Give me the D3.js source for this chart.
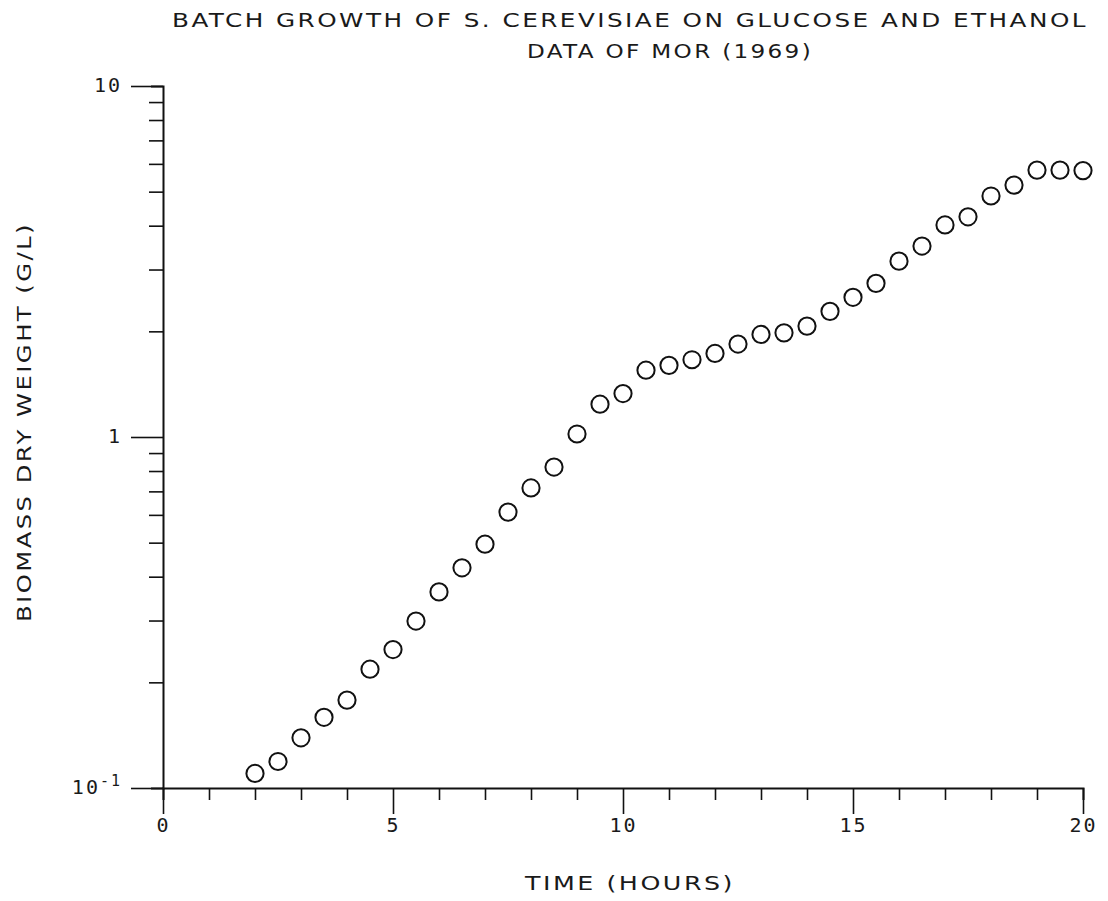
<!DOCTYPE html>
<html>
<head>
<meta charset="utf-8">
<script src="https://cdn.jsdelivr.net/npm/d3@7/dist/d3.min.js"></script>
<style>
  body { margin: 0; background: #fff; }
  text { font-family: "DejaVu Sans", sans-serif; fill: #1a1a1a; }
  .num { font-family: "DejaVu Sans Mono", monospace; }
</style>
</head>
<body>
<div id="chart"></div>
<script>
const WIDTH = 1108;
const HEIGHT = 901;

// time (hours) and biomass dry weight (g/L)
var TIME = [2, 2.5, 3, 3.5, 4, 4.5, 5, 5.5, 6, 6.5, 7, 7.5, 8, 8.5, 9, 9.5, 10,
  10.5, 11, 11.5, 12, 12.5, 13, 13.5, 14, 14.5, 15, 15.5, 16, 16.5, 17, 17.5,
  18, 18.5, 19, 19.5, 20];
var BIOMASS = [0.110, 0.119, 0.139, 0.159, 0.178, 0.218, 0.248, 0.299, 0.362,
  0.424, 0.495, 0.611, 0.716, 0.821, 1.02, 1.24, 1.33, 1.55, 1.60, 1.66, 1.73,
  1.84, 1.96, 1.98, 2.07, 2.28, 2.50, 2.74, 3.17, 3.50, 4.02, 4.24, 4.86, 5.22,
  5.76, 5.76, 5.74];

var X_TICKS = d3.range(0, 21);
var X_LABELS = [0, 5, 10, 15, 20];
var Y_TICKS = [0.1, 0.2, 0.3, 0.4, 0.5, 0.6, 0.7, 0.8, 0.9,
  1, 2, 3, 4, 5, 6, 7, 8, 9, 10];
var Y_LABELS = [0.1, 1, 10];

var TITLE = ["BATCH GROWTH OF S. CEREVISIAE ON GLUCOSE AND ETHANOL",
  "DATA OF MOR (1969)"];
var X_TITLE = "TIME (HOURS)";
var Y_TITLE = "BIOMASS DRY WEIGHT (G/L)";

var xScale = d3.scaleLinear().domain([0, 20]).range([163, 1083]);
var yScale = d3.scaleLog().domain([0.1, 10]).range([788, 86]);

var svg = d3.select("#chart").append("svg")
  .attr("width", WIDTH)
  .attr("height", HEIGHT);

//X axis, ticks pointing down
var xAxis = d3.axisBottom(xScale)
  .tickValues(X_TICKS)
  .tickSizeOuter(0)
  .tickSize(12)
  .tickFormat((d) => (X_LABELS.indexOf(d) >= 0 ? d : ""));

var gx = svg.append("g")
  .attr("transform", "translate(0," + yScale(0.1) + ")")
  .call(xAxis);
gx.attr("font-family", null).attr("font-size", null);
gx.select(".domain").attr("stroke", "#111").attr("stroke-width", 2);
gx.selectAll(".tick line")
  .attr("stroke", "#111")
  .attr("stroke-width", 1.6)
  .attr("y2", (d) => (X_LABELS.indexOf(d) >= 0 ? 26 : 12));
gx.selectAll(".tick text")
  .attr("class", "num")
  .attr("y", 44)
  .attr("dy", null)
  .attr("font-size", 20)
  .attr("letter-spacing", 2)
  .attr("fill", "#1a1a1a");

//Y axis, log scale, ticks pointing left
var yAxis = d3.axisLeft(yScale)
  .tickValues(Y_TICKS)
  .tickSizeOuter(0)
  .tickSize(12)
  .tickFormat("");

var gy = svg.append("g")
  .attr("transform", "translate(" + xScale(0) + ",0)")
  .call(yAxis);
gy.select(".domain").attr("stroke", "#111").attr("stroke-width", 2);
gy.selectAll(".tick line")
  .attr("stroke", "#111")
  .attr("stroke-width", 1.6)
  .attr("x2", (d) => (Y_LABELS.indexOf(d) >= 0 ? -32 : -14));

//Y tick labels
var yLab = svg.append("g").selectAll("text")
  .data(Y_LABELS)
  .enter()
  .append("text")
  .attr("class", "num")
  .attr("x", xScale(0) - 41)
  .attr("y", (d) => yScale(d) + 6)
  .attr("text-anchor", "end")
  .attr("font-size", 20)
  .attr("letter-spacing", 2);
yLab.each(function (d) {
  var t = d3.select(this);
  if (d < 1) {
    t.append("tspan").text("10");
    t.append("tspan").attr("dy", -8).attr("font-size", 15).text("-1");
  } else {
    t.text(d);
  }
});

//Data circles
svg.append("g")
  .selectAll("circle")
  .data(TIME)
  .enter()
  .append("circle")
  .attr("cx", (d) => xScale(d))
  .attr("cy", (d, i) => yScale(BIOMASS[i]))
  .attr("r", 8.6)
  .attr("fill", "none")
  .attr("stroke", "#111")
  .attr("stroke-width", 2);

//Titles (wide plotter-style lettering)
function label(txt, x, y, len, rot) {
  var t = svg.append("text")
    .attr("font-size", 20)
    .attr("letter-spacing", 2)
    .attr("textLength", len)
    .attr("lengthAdjust", "spacingAndGlyphs")
    .text(txt);
  if (rot) t.attr("transform", "translate(" + x + "," + y + ") rotate(-90)");
  else t.attr("x", x).attr("y", y);
  return t;
}
label(TITLE[0], 172, 27, 916);
label(TITLE[1], 527, 58, 286);
label(X_TITLE, 525, 890, 210);
label(Y_TITLE, 31, 622, 400, true);
</script>
</body>
</html>
